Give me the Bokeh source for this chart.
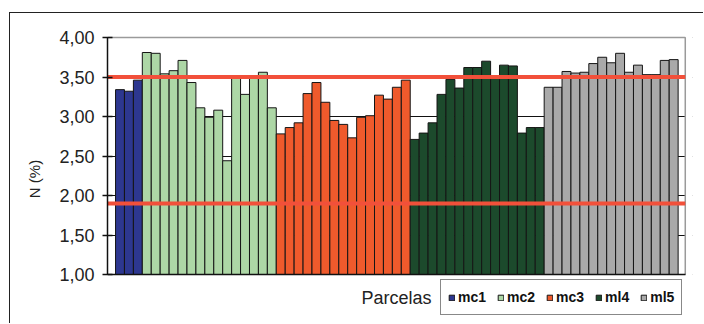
from bokeh.plotting import figure
from bokeh.models import (Range1d, FixedTicker, CustomJSTickFormatter, Legend,
                          LegendItem, ColumnDataSource, LinearAxis)
from bokeh.embed import file_html
from bokeh.resources import INLINE

# ---- data ----
groups = ["mc1", "mc2", "mc3", "ml4", "ml5"]
mc1 = [3.34, 3.32, 3.46]
mc2 = [3.81, 3.80, 3.54, 3.58, 3.71, 3.43, 3.11, 2.99, 3.08, 2.44, 3.49, 3.28, 3.49, 3.56, 3.11]
mc3 = [2.78, 2.86, 2.92, 3.29, 3.43, 3.18, 2.95, 2.90, 2.73, 2.99, 3.01, 3.27, 3.22, 3.37, 3.46]
ml4 = [2.71, 2.79, 2.92, 3.28, 3.47, 3.36, 3.62, 3.62, 3.70, 3.48, 3.65, 3.64, 2.79, 2.86, 2.86]
ml5 = [3.37, 3.37, 3.57, 3.55, 3.56, 3.67, 3.75, 3.68, 3.80, 3.56, 3.65, 3.53, 3.53, 3.71, 3.72]
colors = ["#2D3790", "#ADD7A6", "#EF5A2C", "#1C4A2C", "#A9A9A9"]
limits = [3.5, 1.9]
y_ticks = [1.0, 1.5, 2.0, 2.5, 3.0, 3.5, 4.0]
y_min, y_max = 1.0, 4.0

series = [mc1, mc2, mc3, ml4, ml5]
n_total = sum(len(s) for s in series)
x_lo = -1.4                      # left edge of plot area (category units)
x_hi = n_total - 1 + 1.3         # right edge of plot area

# frame is extended a little to the right and below so the legend fits inside it
p = figure(width=694, height=311, output_backend="svg", toolbar_location=None,
           x_axis_location=None,
           x_range=Range1d(x_lo, x_lo + 585 / 8.93),
           y_range=Range1d(y_min - 48 / 79, y_max + 2 / 79),
           min_border_left=97, min_border_right=12, min_border_top=22, min_border_bottom=2)
p.margin = (12, 0, 0, 9)
p.styles = {"border-top": "1px solid #222222", "border-left": "1px solid #222222"}
p.background_fill_color = "white"
p.border_fill_color = "white"
p.outline_line_color = None

# grid
p.xgrid.visible = False
p.ygrid.ticker = FixedTicker(ticks=y_ticks)
p.ygrid.grid_line_color = "#111111"
p.ygrid.grid_line_width = 1

items = []
start = 0
for name, vals, col in zip(groups, series, colors):
    xs = list(range(start, start + len(vals)))
    src = ColumnDataSource(dict(x=xs, top=vals))
    r = p.vbar(x="x", top="top", bottom=y_min, width=1.0, source=src,
               fill_color=col, line_color="#151515", line_width=1)
    items.append(LegendItem(label=name, renderers=[r]))
    start += len(vals)

# mask the area right of / below the plot area
p.quad(left=[x_hi], right=[x_hi + 10], bottom=[y_min - 1], top=[y_max + 1],
       fill_color="white", line_color=None)
p.quad(left=[x_lo - 1], right=[x_hi + 10], bottom=[y_min - 1], top=[y_min],
       fill_color="white", line_color=None)

# plot-area border (top and right)
p.segment(x0=[x_lo, x_hi], y0=[y_max, y_min], x1=[x_hi, x_hi], y1=[y_max, y_max],
          line_color="#9a9a9a", line_width=1.5)

# limit lines
p.segment(x0=[x_lo] * len(limits), y0=limits, x1=[x_hi] * len(limits), y1=limits,
          line_color="#F2503A", line_width=4)

# axes
yax = p.yaxis[0]
yax.bounds = (y_min, y_max)
yax.ticker = FixedTicker(ticks=y_ticks)
yax.formatter = CustomJSTickFormatter(code="return tick.toFixed(2).replace('.', ',');")
yax.axis_label = "N (%)"
yax.axis_label_text_font = "Liberation Sans"
yax.axis_label_text_font_size = "15px"
yax.axis_label_text_font_style = "normal"
yax.axis_label_text_color = "#222222"
yax.axis_label_text_align = "left"
yax.axis_label_standoff = 13
yax.major_label_text_font = "Liberation Sans"
yax.major_label_text_font_size = "18px"
yax.major_label_text_color = "#222222"
yax.major_label_standoff = 8
yax.major_tick_in = 5
yax.major_tick_out = 5
yax.minor_tick_line_color = None
yax.axis_line_color = "#111111"
yax.axis_line_width = 1.5
yax.major_tick_line_color = "#111111"
yax.major_tick_line_width = 1.5

xax = LinearAxis(fixed_location=y_min, ticker=FixedTicker(ticks=[]),
                 axis_label="Parcelas")
xax.axis_label_text_font = "Liberation Sans"
xax.axis_label_text_font_size = "18px"
xax.axis_label_text_font_style = "normal"
xax.axis_label_text_color = "#222222"
xax.axis_label_standoff = 13
xax.major_tick_line_color = None
xax.minor_tick_line_color = None
xax.major_label_text_font_size = "0px"
xax.axis_line_color = "#111111"
xax.axis_line_width = 1.5
xax.bounds = (x_lo, x_hi)
p.add_layout(xax, "below")

legend = Legend(items=items, orientation="horizontal", location=(333, 7),
                label_text_font="Liberation Sans", label_text_font_size="14px",
                label_text_font_style="bold", label_text_color="#111111",
                glyph_width=7, glyph_height=7, label_standoff=3, spacing=11,
                padding=7, label_height=20, margin=0,
                border_line_color="#111111", border_line_width=1,
                background_fill_color="white", background_fill_alpha=1.0)
p.add_layout(legend, "center")

open("out.html", "w").write(file_html(p, INLINE))
